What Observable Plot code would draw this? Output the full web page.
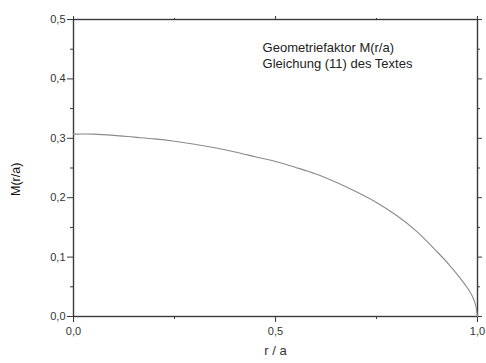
<!DOCTYPE html>
<html>
<head>
<meta charset="utf-8">
<script src="https://cdn.jsdelivr.net/npm/d3@7"></script>
<script src="https://cdn.jsdelivr.net/npm/@observablehq/plot@0.6"></script>
<style>
  html, body { margin: 0; padding: 0; background: #fff; }
  svg { font-family: "Liberation Sans", Arial, sans-serif; }
</style>
</head>
<body>
<div id="chart"></div>
<script>
const rValues = [0, 0.05, 0.1, 0.15, 0.2, 0.25, 0.3, 0.35, 0.4, 0.45, 0.5, 0.55, 0.6, 0.65, 0.7, 0.75, 0.8, 0.85, 0.9, 0.93, 0.96, 0.98, 0.99, 0.995, 1.0];
const mValues = [0.307, 0.307, 0.305, 0.302, 0.299, 0.295, 0.290, 0.284, 0.277, 0.269, 0.261, 0.251, 0.240, 0.226, 0.210, 0.192, 0.170, 0.143, 0.109, 0.087, 0.062, 0.043, 0.030, 0.020, 0.0];
const xMajorTicks = [0, 0.5, 1.0];
const xMinorTicks = [0.25, 0.75];
const yMajorTicks = [0, 0.1, 0.2, 0.3, 0.4, 0.5];
const yMinorTicks = [0.05, 0.15, 0.25, 0.35, 0.45];
const annotX = [0.468];
const annotY = [0.441];
const annotText = ["Geometriefaktor M(r/a)\nGleichung (11) des Textes"];

const data = rValues.map((r, i) => ({r, m: mValues[i]}));
const fmt = d => d.toFixed(1).replace(".", ",");
const axisColor = "#3a3a3a";

const chart = Plot.plot({
  width: 486,
  height: 363,
  marginLeft: 73,
  marginRight: 9,
  marginTop: 19,
  marginBottom: 47,
  style: {fontFamily: "'Liberation Sans', Arial, sans-serif", fontSize: "11px", color: "#333", background: "#fff"},
  x: {domain: [0, 1], label: null},
  y: {domain: [0, 0.5], label: null},
  marks: [
    Plot.frame({stroke: axisColor, strokeWidth: 1.4}),
    Plot.axisY({ticks: yMajorTicks, tickFormat: fmt, tickSize: 6, tickPadding: 2, stroke: axisColor, label: null, fontSize: 11}),
    Plot.axisY({ticks: yMinorTicks, tickFormat: null, text: null, tickSize: 3, stroke: axisColor, label: null}),
    Plot.axisY({anchor: "right", ticks: yMajorTicks, text: null, tickSize: 4, stroke: axisColor, label: null}),
    Plot.axisY({anchor: "right", ticks: yMinorTicks, text: null, tickSize: 2, stroke: axisColor, label: null}),
    Plot.axisX({ticks: xMajorTicks, tickFormat: fmt, tickSize: 6, tickPadding: 5, stroke: axisColor, label: null, fontSize: 11}),
    Plot.axisX({ticks: xMinorTicks, text: null, tickSize: 3, stroke: axisColor, label: null}),
    Plot.axisX({anchor: "top", ticks: xMajorTicks, text: null, tickSize: 4, stroke: axisColor, label: null}),
    Plot.axisX({anchor: "top", ticks: xMinorTicks, text: null, tickSize: 2, stroke: axisColor, label: null}),
    Plot.line(data, {x: "r", y: "m", stroke: "#8a8a8a", strokeWidth: 1.1, curve: "catmull-rom"}),
    Plot.text(annotText, {x: annotX, y: annotY, text: d => d, textAnchor: "start", lineAnchor: "middle", fontSize: 13, fill: "#222", lineHeight: 1.3}),
    Plot.text(["r / a"], {frameAnchor: "bottom", dy: 38, fontSize: 13, fill: "#333"}),
    Plot.text(["M(r/a)"], {frameAnchor: "left", dx: -58, dy: 28, rotate: -90, fontSize: 12.5, fill: "#111"})
  ]
});
document.getElementById("chart").appendChild(chart);
</script>
</body>
</html>
